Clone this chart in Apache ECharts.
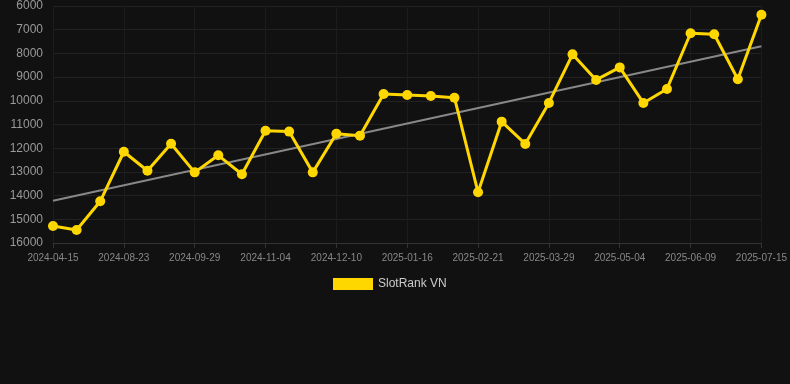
<!DOCTYPE html>
<html><head><meta charset="utf-8">
<script src="https://cdn.jsdelivr.net/npm/echarts@6/dist/echarts.min.js"></script>
<style>html,body{margin:0;padding:0;background:#111111;}#c{width:790px;height:384px;}</style>
</head><body><div id="c"></div>
<script>
const categories = ["2024-04-15","2024-07-18","2024-08-11","2024-08-23","2024-09-04","2024-09-16","2024-09-29","2024-10-11","2024-10-23","2024-11-04","2024-11-16","2024-11-28","2024-12-10","2024-12-22","2025-01-03","2025-01-16","2025-01-28","2025-02-09","2025-02-21","2025-03-05","2025-03-17","2025-03-29","2025-04-10","2025-04-22","2025-05-04","2025-05-16","2025-05-28","2025-06-09","2025-06-21","2025-07-03","2025-07-15"];
const rankValues = [15280,15450,14240,12150,12950,11810,13020,12300,13100,11260,11300,13020,11390,11470,9710,9755,9800,9870,13860,10880,11820,10090,8040,9120,8590,10090,9500,7150,7190,9090,6370];
const seriesName = "SlotRank VN";

// linear regression trend
const n = rankValues.length;
let sx=0, sy=0, sxy=0, sxx=0;
rankValues.forEach((v,i)=>{sx+=i;sy+=v;sxy+=i*v;sxx+=i*i;});
const slope = (n*sxy - sx*sy)/(n*sxx - sx*sx);
const icpt = (sy - slope*sx)/n;
const trend = rankValues.map((v,i)=> (i===0||i===n-1) ? Math.round(icpt+slope*i) : null);

const chart = echarts.init(document.getElementById('c'));
chart.setOption({
  backgroundColor:'#111111',
  animation:false,
  grid:{left:53,right:28,top:6,bottom:141,containLabel:false},
  legend:{
    data:[seriesName], bottom:89, left:328,
    itemWidth:40, itemHeight:12, icon:'rect',
    textStyle:{color:'#cccccc',fontSize:12,fontFamily:'Arial, Liberation Sans, sans-serif'}
  },
  xAxis:{
    type:'category', data:categories, boundaryGap:false,
    axisLine:{lineStyle:{color:'#333333'}},
    axisTick:{show:true,interval:2,lineStyle:{color:'#333333'}},
    axisLabel:{interval:2,color:'#888888',fontSize:10,margin:10,fontFamily:'Arial, Liberation Sans, sans-serif'},
    splitLine:{show:true,interval:2,lineStyle:{color:'#1c1c1c'}}
  },
  yAxis:{
    type:'value', inverse:true, min:6000, max:16000, interval:1000,
    axisLine:{show:false}, axisTick:{show:false},
    axisLabel:{color:'#999999',fontSize:12,margin:10,formatter:v=>String(v),fontFamily:'Arial, Liberation Sans, sans-serif'},
    splitLine:{lineStyle:{color:'#222222'}}
  },
  series:[
    {name:seriesName,type:'line',data:rankValues,symbol:'circle',symbolSize:10,
     lineStyle:{color:'#FFD700',width:3},itemStyle:{color:'#FFD700'},z:3},
    {name:'trend',type:'line',data:trend,connectNulls:true,symbol:'none',
     lineStyle:{color:'#888888',width:2},itemStyle:{color:'#888888'},z:2}
  ]
});
</script></body></html>
